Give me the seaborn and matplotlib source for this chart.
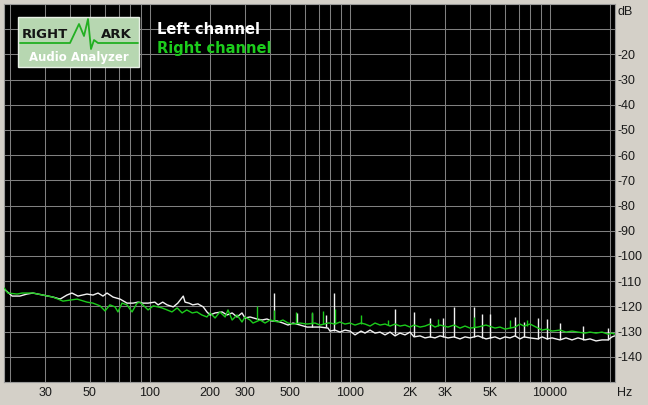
import matplotlib
matplotlib.use("Agg")
import matplotlib.pyplot as plt
import matplotlib.transforms as mtransforms
from matplotlib.patches import Rectangle
from matplotlib.lines import Line2D
from matplotlib.ticker import NullLocator
import pandas as pd
import seaborn as sns

# noise floor spectrum
left_hz = [18.7, 20.5, 22.4, 24.3, 26.0, 29.2, 32.8, 35.6, 38.5, 40.8, 43.7, 48.5,
           52.0, 55.1, 58.3, 61.1, 65.5, 71.0, 76.9, 82.4, 87.3, 92.5, 98.0, 106,
           110, 116, 122, 131, 138, 147, 150, 157, 164, 174, 185, 193, 200, 212,
           230, 243, 258, 273, 289, 299, 317, 344, 364, 385, 408, 433, 463, 491,
           520, 564, 611, 670, 710, 778, 796, 843, 893, 946, 1002, 1062, 1138,
           1191, 1262, 1337, 1416, 1500, 1589, 1683, 1782, 1888, 2000, 2094, 2244,
           2377, 2518, 2667, 2825, 3097, 3319, 3556, 3767, 3990, 4375, 4797, 5321,
           5636, 5970, 6324, 6699, 7096, 7430, 7962, 8730, 9141, 9683, 10257,
           11246, 12050, 12912, 13836, 14997, 15885, 17022, 18239, 19543, 20464, 21100]
left_db = [-113.1, -115.9, -115.9, -115.1, -114.7, -115.5, -116.3, -117.1, -115.5, -114.7,
           -115.9, -115.1, -115.5, -114.7, -115.9, -114.7, -116.3, -117.1, -118.7, -118.7,
           -118.3, -118.7, -118.7, -118.3, -119.4, -118.3, -119.4, -120.2, -118.7, -115.9,
           -118.3, -118.7, -119.4, -119.0, -120.2, -122.2, -123.4, -122.6, -122.2, -123.4,
           -122.6, -124.2, -122.6, -124.6, -124.2, -125.0, -125.4, -125.0, -125.8, -125.8,
           -126.6, -127.4, -126.6, -127.4, -128.2, -128.2, -128.2, -128.6, -129.8, -129.4,
           -130.2, -129.4, -129.8, -131.3, -129.8, -130.6, -129.4, -130.6, -130.2, -131.3,
           -130.2, -131.7, -130.6, -131.3, -130.2, -132.1, -131.7, -132.5, -132.1, -132.5,
           -131.7, -132.5, -132.1, -132.9, -132.1, -132.5, -131.7, -132.9, -132.1, -132.9,
           -132.1, -132.5, -131.7, -132.9, -132.1, -132.5, -132.9, -132.1, -132.9, -132.5,
           -133.3, -132.5, -133.3, -132.5, -133.3, -132.9, -133.7, -133.3, -133.3, -132.1,
           -131.7]

right_hz = [18.7, 19.5, 21.7, 23.0, 26.0, 29.2, 32.8, 36.8, 39.9, 43.3, 48.5, 52.0,
            56.4, 59.7, 63.2, 67.0, 69.3, 72.6, 76.9, 81.5, 86.3, 89.3, 94.6, 98.0,
            104, 110, 115, 122, 129, 137, 145, 153, 163, 172, 182, 193, 200, 212,
            224, 238, 246, 258, 273, 289, 299, 317, 328, 356, 377, 399, 438, 463,
            491, 520, 564, 611, 670, 710, 778, 796, 843, 893, 946, 1002, 1062, 1138,
            1191, 1262, 1337, 1416, 1500, 1589, 1683, 1782, 1888, 2000, 2094, 2244,
            2377, 2518, 2667, 2825, 3097, 3319, 3556, 3767, 3990, 4375, 4797, 5321,
            5636, 5970, 6324, 6699, 7096, 7430, 7962, 8730, 9141, 9683, 10257,
            11246, 12050, 12912, 13836, 14997, 15885, 17022, 18239, 19543, 20464, 21100]
right_db = [-112.7, -114.7, -115.1, -114.7, -114.7, -115.5, -116.3, -117.9, -117.5, -117.1,
            -118.3, -118.7, -119.8, -121.8, -119.4, -120.2, -122.2, -118.7, -119.4, -122.2,
            -118.7, -118.3, -120.2, -121.4, -119.8, -120.2, -120.6, -121.4, -122.2, -120.6,
            -122.6, -121.4, -122.6, -122.2, -123.4, -124.2, -122.6, -124.6, -122.2, -124.2,
            -121.4, -125.4, -123.4, -126.2, -124.2, -125.4, -126.6, -125.4, -126.6, -125.4,
            -126.2, -125.4, -126.6, -127.0, -126.6, -127.0, -126.6, -127.4, -126.6, -126.6,
            -127.0, -126.2, -127.0, -126.6, -127.4, -126.6, -127.0, -127.8, -126.6, -127.4,
            -127.0, -127.8, -127.0, -127.8, -127.4, -128.2, -127.4, -128.2, -127.8, -127.0,
            -128.2, -127.4, -128.2, -127.4, -128.6, -127.8, -128.6, -128.2, -127.4, -128.6,
            -128.2, -129.0, -128.6, -128.2, -127.0, -127.8, -127.0, -128.6, -129.4, -129.0,
            -129.8, -129.4, -130.2, -129.8, -130.2, -130.6, -130.2, -130.6, -130.2, -131.0,
            -130.6, -131.0]

# narrow harmonic spikes
left_spike_hz = [418, 544, 647, 760, 834, 1683, 2094, 2518, 2924, 3319, 4178, 4581,
                 5023, 6699, 7430, 8730, 9683, 11246, 14700, 19543]
left_spike_base = [-125.6, -127.0, -128.2, -128.2, -129.6, -131.0, -131.8, -132.0, -132.0,
                   -132.0, -132.2, -132.4, -132.4, -131.8, -132.2, -132.8, -132.8, -133.0,
                   -133.2, -133.3]
left_spike_top = [-114.7, -122.6, -122.6, -123.4, -114.7, -121.0, -122.2, -124.6, -124.6,
                  -120.2, -120.2, -123.0, -123.0, -124.2, -126.2, -124.6, -125.0, -126.6,
                  -127.8, -128.6]

right_spike_hz = [344, 418, 538, 647, 735, 843, 1138, 1552, 2761, 4178, 6324, 7691]
right_spike_base = [-125.4, -125.8, -126.6, -126.8, -127.0, -127.0, -126.8, -127.4, -127.6,
                    -128.0, -128.6, -127.6]
right_spike_top = [-119.8, -121.4, -122.2, -122.2, -121.8, -121.0, -123.4, -125.4, -125.0,
                   -124.2, -125.4, -125.4]

grid_hz = [20, 30, 40, 50, 60, 70, 80, 90, 100, 200, 300, 400, 500, 600, 700, 800, 900,
           1000, 2000, 3000, 4000, 5000, 6000, 7000, 8000, 9000, 10000, 20000]
tick_hz = [30, 50, 100, 200, 300, 500, 1000, 2000, 3000, 5000, 10000]
tick_labels = ['30', '50', '100', '200', '300', '500', '1000', '2K', '3K', '5K', '10000']
db_ticks = [-10, -20, -30, -40, -50, -60, -70, -80, -90, -100, -110, -120, -130, -140]
db_labels = ['', '-20', '-30', '-40', '-50', '-60', '-70', '-80', '-90', '-100',
             '-110', '-120', '-130', '-140']

WHITE = '#f2f2f2'
GREEN = '#1ccc1c'
BG = '#d4d0c8'

sns.set_style("ticks")
plt.rcParams['font.family'] = ['Liberation Sans', 'DejaVu Sans']

W, H = 648, 405
fig = plt.figure(figsize=(W / 100, H / 100), dpi=100, facecolor=BG)
ax = fig.add_axes([4 / W, 23 / H, 611 / W, 378 / H])
ax.set_facecolor('black')

left = pd.DataFrame({'hz': left_hz, 'db': left_db})
right = pd.DataFrame({'hz': right_hz, 'db': right_db})

sns.lineplot(data=left, x='hz', y='db', color=WHITE, lw=1.0, estimator=None,
             sort=False, ax=ax, zorder=3)
ax.vlines(left_spike_hz, left_spike_base, left_spike_top, colors=WHITE, lw=1.0, zorder=3)
sns.lineplot(data=right, x='hz', y='db', color=GREEN, lw=1.0, estimator=None,
             sort=False, ax=ax, zorder=4)
ax.vlines(right_spike_hz, right_spike_base, right_spike_top, colors=GREEN, lw=1.0, zorder=4)

ax.set_xscale('log')
ax.set_xlim(18.66, 21180)
ax.set_ylim(-150, 0)
ax.set_xlabel('')
ax.set_ylabel('')

# grid lines everywhere, labels only on some of them
lab = dict(zip(tick_hz, tick_labels))
ax.set_xticks(grid_hz)
ax.set_xticklabels([lab.get(f, '') for f in grid_hz])
ax.xaxis.set_minor_locator(NullLocator())
ax.yaxis.tick_right()
ax.set_yticks(db_ticks)
ax.set_yticklabels(db_labels)
ax.grid(True, color='#808080', lw=0.75)
ax.set_axisbelow(True)
ax.tick_params(length=0, labelsize=9, labelcolor='#1a1a1a')
ax.tick_params(axis='x', pad=3.5)
ax.tick_params(axis='y', pad=2)
for s in ax.spines.values():
    s.set_color('#9a9a9a')
    s.set_linewidth(0.8)

trans = mtransforms.blended_transform_factory(ax.transAxes, ax.transData)
ax.text(1.004, -3.2, 'dB', transform=trans, va='center', ha='left', fontsize=9,
        color='#1a1a1a')
fig.text(617 / W, 1 - 393 / H, 'Hz', va='center', ha='left', fontsize=9, color='#1a1a1a')


def px(x, y):
    return x / W, 1 - y / H


# legend texts
fig.text(*px(157, 30), 'Left channel', color='white', fontsize=10.5, fontweight='bold',
         family='DejaVu Sans', va='center', ha='left', zorder=6)
fig.text(*px(157, 49), 'Right channel', color=GREEN, fontsize=10.5, fontweight='bold',
         family='DejaVu Sans', va='center', ha='left', zorder=6)

# RightMark logo
x0, y0 = px(18, 67)
x1, y1 = px(139, 17)
fig.add_artist(Rectangle((x0, y0), x1 - x0, y1 - y0, transform=fig.transFigure,
                         fc='#b7d7b1', ec='#e8f0e6', lw=1, zorder=5))
wave = [(20, 43), (70, 43), (79, 24), (84, 36), (88, 19), (91, 49), (94, 40), (98, 43),
        (138, 43)]
fig.add_artist(Line2D([px(*p)[0] for p in wave], [px(*p)[1] for p in wave],
                      transform=fig.transFigure, color='#22b022', lw=1.3, zorder=6))
fig.text(*px(22, 34), 'RIGHT', color='#151515', fontsize=9.5, fontweight='bold',
         family='DejaVu Sans', va='center', ha='left', zorder=7)
fig.text(*px(101, 34), 'ARK', color='#151515', fontsize=9.5, fontweight='bold',
         family='DejaVu Sans', va='center', ha='left', zorder=7)
fig.text(*px(79, 58), 'Audio Analyzer', color='white', fontsize=8.5, fontweight='bold',
         family='DejaVu Sans', va='center', ha='center', zorder=7)

fig.savefig('out.png', dpi=100, facecolor=BG)
